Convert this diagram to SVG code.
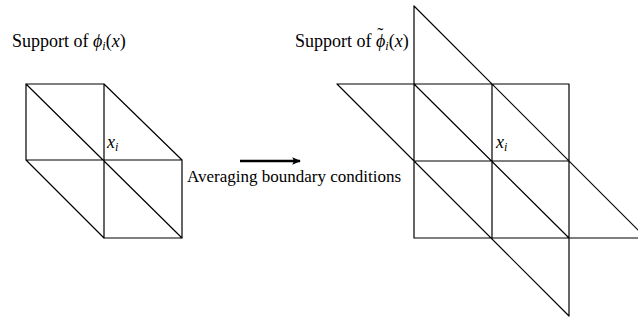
<svg xmlns="http://www.w3.org/2000/svg" width="638" height="320" viewBox="0 0 638 320">
<style>
.m{stroke:#000;stroke-width:1.2;fill:none;stroke-linecap:round}
</style>
<defs>
<marker id="ah" viewBox="0 0 10 10" refX="9" refY="5" markerWidth="3.6" markerHeight="3.6" orient="auto" markerUnits="strokeWidth">
<path d="M0,0.8 L10,5 L0,9.2 L2,5 Z" fill="#000"/>
</marker>
</defs>
<g id="left-mesh" class="m">
<path d="M26,84 H104 M26,84 V160 M26,84 L182,238 M104,84 L182,160 M104,84 V238 M26,160 H182 M182,160 V238 M26,160 L104,238 M104,238 H182"/>
</g>
<g id="right-mesh" class="m">
<path d="M414,6 V238 M414,6 L647,239 M337,84 H569 M337,84 L569,316 M414,84 L569,238 M492,84 V238 M569,84 V316 M414,161 H569 M414,238 H647"/>
</g>
<g id="connectors">
<line x1="240" y1="161" x2="300" y2="161" stroke="#000" stroke-width="2.4" marker-end="url(#ah)"/>
</g>
<g id="labels" font-family="'Liberation Serif', 'DejaVu Serif', serif" font-size="18" fill="#000">
<text x="12" y="47">Support of <tspan font-style="italic">ϕ</tspan><tspan font-style="italic" font-size="12" dy="3">i</tspan><tspan dy="-3">(</tspan><tspan font-style="italic">x</tspan>)</text>
<text x="295" y="47">Support of <tspan font-style="italic">ϕ</tspan><tspan dx="-8" dy="-6">˜</tspan><tspan font-style="italic" font-size="12" dx="2" dy="9">i</tspan><tspan dy="-3">(</tspan><tspan font-style="italic">x</tspan>)</text>
<text x="107" y="148" font-style="italic">x<tspan font-size="12" dy="3">i</tspan></text>
<text x="496" y="148" font-style="italic">x<tspan font-size="12" dy="3">i</tspan></text>
<text x="187" y="182" font-size="17">Averaging boundary conditions</text>
</g>
</svg>
